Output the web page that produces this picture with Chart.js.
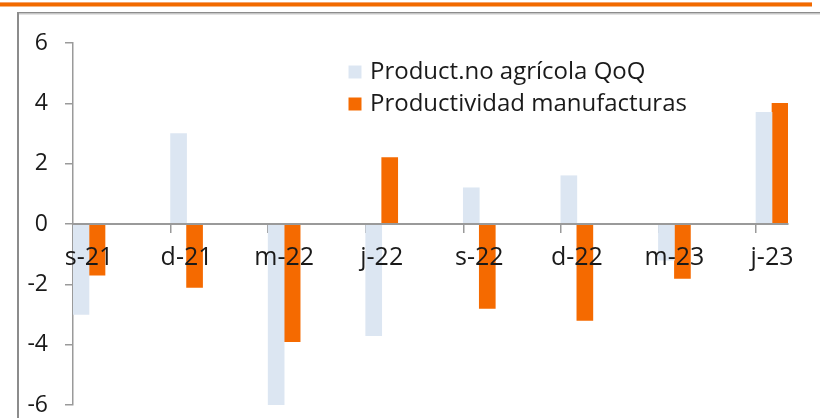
<!DOCTYPE html>
<html><head><meta charset="utf-8">
<script src="https://cdn.jsdelivr.net/npm/chart.js@4.4.1/dist/chart.umd.min.js"></script>
<style>html,body{margin:0;padding:0;background:#fff;}#wrap{width:820px;height:418px;position:relative;}</style>
</head><body><div id="wrap"><canvas id="c"></canvas></div>
<script>
const categories = ['s-21','d-21','m-22','j-22','s-22','d-22','m-23','j-23'];
const productNoAgricola = [-3.0, 3.0, -6.0, -3.7, 1.2, 1.6, -1.2, 3.7];
const productividadManufacturas = [-1.7, -2.1, -3.9, 2.2, -2.8, -3.2, -1.8, 4.0];
const seriesNames = ['Product.no agrícola QoQ', 'Productividad manufacturas'];
const yTicks = [-6, -4, -2, 0, 2, 4, 6];

const edge = 0.164;           // half group width in category units
const gray = '#9a9a9a';
const textColor = '#1a1a1a';

Chart.defaults.font.family = "'Open Sans', sans-serif";
Chart.defaults.color = textColor;

const frame = {
  id: 'frame',
  beforeDraw(chart) {
    const ctx = chart.ctx;
    ctx.save();
    ctx.fillStyle = '#fff';
    ctx.fillRect(0, 0, chart.width, chart.height);
    ctx.fillStyle = '#f5a36a';
    ctx.fillRect(0, 2, 812, 1);
    ctx.fillStyle = '#f26a00';
    ctx.fillRect(0, 3, 812, 3.5);
    ctx.fillStyle = '#8c8c8c';
    ctx.fillRect(17, 12, chart.width - 17, 1.5);
    ctx.fillStyle = '#c8c8c8';
    ctx.fillRect(17, 13.5, chart.width - 17, 1);
    ctx.fillStyle = '#8c8c8c';
    ctx.fillRect(17, 12, 2, chart.height - 12);
    ctx.restore();
    const lg = chart.legend;
    if (lg) {
      lg.left = 344; lg.top = 52;
      lg.right = lg.left + lg.width; lg.bottom = lg.top + 300;
    }
  }
};

const toPoints = arr => arr.map((v, i) => ({x: i, y: v}));

new Chart(document.getElementById('c'), {
  type: 'bar',
  data: {
    datasets: [
      { label: seriesNames[0], data: toPoints(productNoAgricola), backgroundColor: '#dce6f2', borderWidth: 0 },
      { label: seriesNames[1], data: toPoints(productividadManufacturas), backgroundColor: '#f56a00', borderWidth: 0 }
    ]
  },
  options: {
    responsive: true, maintainAspectRatio: false, animation: false, devicePixelRatio: 1,
    layout: { padding: { top: 43, right: 32, bottom: 13, left: 0 } },
    datasets: { bar: { barThickness: 16, grouped: true } },
    plugins: {
      tooltip: { enabled: false },
      legend: {
        position: 'chartArea', align: 'start',
        labels: {
          usePointStyle: true, pointStyle: 'rect', boxWidth: 6, boxHeight: 13,
          padding: 8, color: textColor, font: { size: 24 }
        }
      }
    },
    scales: {
      x: {
        type: 'linear', position: { y: 0 }, offset: false, bounds: 'data',
        min: -edge, max: categories.length - 1 + edge,
        afterBuildTicks: s => { s.ticks = categories.map((c, i) => ({ value: i - edge })); },
        afterFit: s => { s.height = 0; },
        ticks: {
          callback: (v, i) => categories[i], labelOffset: 16, padding: 11, z: 2,
          maxRotation: 0, autoSkip: false, color: textColor, font: { size: 25 }
        },
        grid: { offset: false, drawOnChartArea: false, drawTicks: true, tickLength: 8, color: gray, lineWidth: 1.5 },
        border: { display: true, color: gray, width: 2, z: 1 }
      },
      y: {
        min: yTicks[0], max: yTicks[yTicks.length - 1],
        afterBuildTicks: s => { s.ticks = yTicks.map(v => ({ value: v })); },
        afterFit: s => { s.width = 73; s.paddingTop = 0; s.paddingBottom = 0; },
        ticks: { padding: 17, color: textColor, font: { size: 23 } },
        grid: { drawOnChartArea: false, drawTicks: true, tickLength: 8, color: gray, lineWidth: 1.5 },
        border: { display: true, color: gray, width: 1.5 }
      }
    }
  },
  plugins: [frame]
});
</script></body></html>
